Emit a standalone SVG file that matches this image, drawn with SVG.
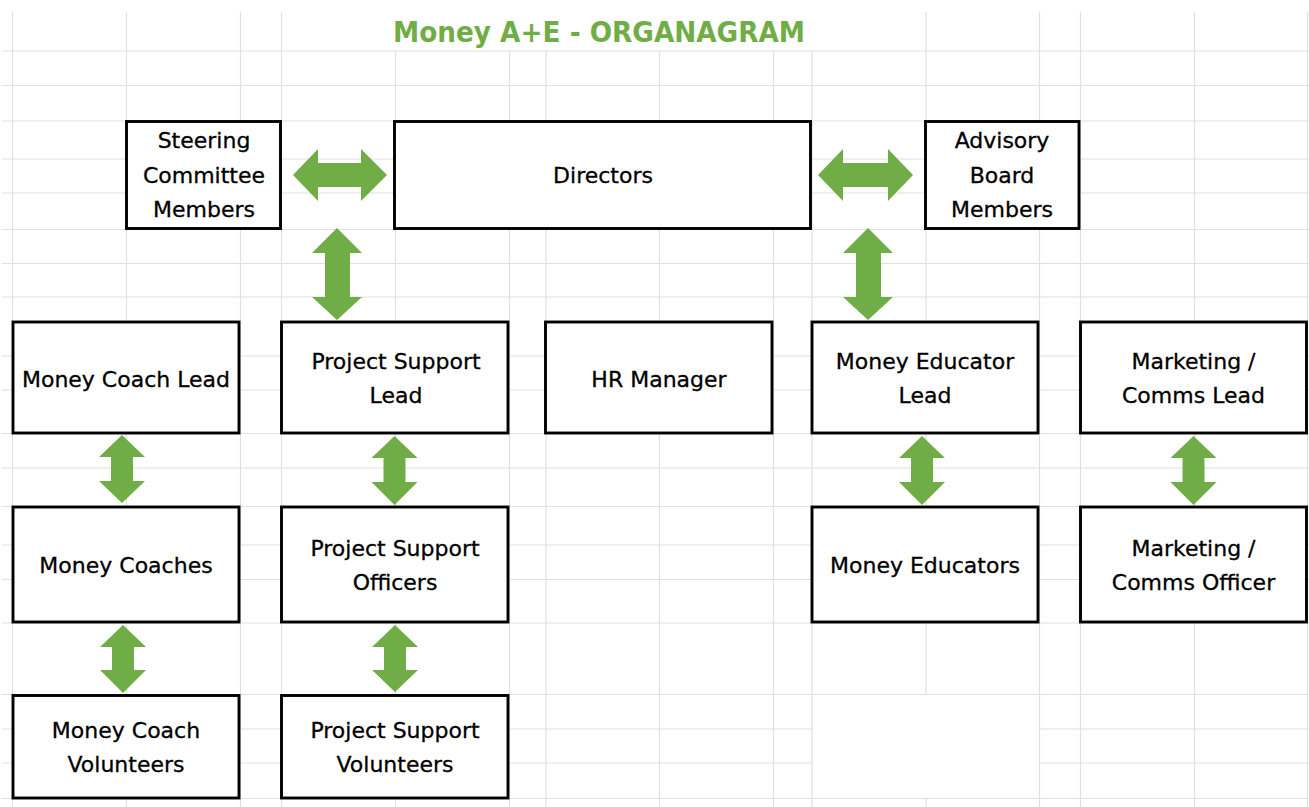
<svg xmlns="http://www.w3.org/2000/svg" width="1309" height="807" viewBox="0 0 1309 807">
<style>
.grid{stroke:#e0e0e0;stroke-width:1.2;fill:none}
.box{fill:#fff;stroke:#000;stroke-width:2.9}
.lbl{font-family:"DejaVu Sans",sans-serif;font-size:22px;fill:#000;stroke:#000;stroke-width:0.3;text-anchor:middle}
.arrow{fill:#70AD47}
.title{font-family:"DejaVu Sans",sans-serif;font-weight:bold;font-size:29px;fill:#70AD47;text-anchor:middle}
</style>
<rect width="1309" height="807" fill="#fff"/>
<g id="grid" class="grid">
<path d="M12.5 12V807M126.5 12V807M240.5 12V807M281.5 12V807M926 12V695M926 799V807M1039.5 12V807M1080.5 12V807M1194.5 12V807M1307.5 12V807"/>
<path d="M395.5 51V807M509.5 51V807M546 51V807M659.5 51V807M773.5 51V807M812 51V807"/>
<path d="M2 51H1309M2 85.5H1309M2 121H1309M2 159H1309M2 193H1309M2 229.5H1309M2 263.5H1309M2 297H1309M2 356H1309M2 390H1309M2 433.5H1309M2 468H1309M2 506.5H1309M2 545H1309M2 579.5H1309M2 623H1309M2 694.5H1309M2 798.5H1309"/>
<path d="M2 729H812M1039 729H1309M2 763H812M1039 763H1309"/>
</g>
<text class="title" x="599" y="42" textLength="412" lengthAdjust="spacingAndGlyphs">Money A+E - ORGANAGRAM</text>
<g id="connectors">
<polygon class="arrow" points="293,175 318,149 318,163 361,163 361,149 387,175 361,201 361,187 318,187 318,201"/>
<polygon class="arrow" points="818,175 843,149 843,163 888,163 888,149 913,175 888,201 888,187 843,187 843,201"/>
<polygon class="arrow" points="337,228 362,253 350,253 350,297 362,297 337,320 312,297 325,297 325,253 312,253"/>
<polygon class="arrow" points="868,228 893,253 881,253 881,297 893,297 868,320 843,297 856,297 856,253 843,253"/>
<polygon class="arrow" points="122,435 145,457 133,457 133,481 145,481 122,503 99,481 111,481 111,457 99,457"/>
<polygon class="arrow" points="123,625 146,647 134,647 134,670 146,670 123,693 100,670 112,670 112,647 100,647"/>
<polygon class="arrow" points="394.5,436 417.5,458 405.5,458 405.5,482 417.5,482 394.5,505 371.5,482 383.5,482 383.5,458 371.5,458"/>
<polygon class="arrow" points="395,625 418,647 406,647 406,670 418,670 395,692 372,670 384,670 384,647 372,647"/>
<polygon class="arrow" points="922,436 945,458 933,458 933,482 945,482 922,505 899,482 911,482 911,458 899,458"/>
<polygon class="arrow" points="1193.5,436 1216.5,458 1204.5,458 1204.5,482 1216.5,482 1193.5,505 1170.5,482 1182.5,482 1182.5,458 1170.5,458"/>
</g>
<g id="steering">
<rect class="box" x="126.5" y="121.5" width="154" height="107"/>
<text class="lbl" x="204" y="148">Steering</text>
<text class="lbl" x="204" y="183">Committee</text>
<text class="lbl" x="204" y="217">Members</text>
</g>
<g id="directors">
<rect class="box" x="394.5" y="121.5" width="416" height="107"/>
<text class="lbl" x="603" y="183">Directors</text>
</g>
<g id="advisory">
<rect class="box" x="925.5" y="121.5" width="153.5" height="107"/>
<text class="lbl" x="1002" y="148">Advisory</text>
<text class="lbl" x="1002" y="183">Board</text>
<text class="lbl" x="1002" y="217">Members</text>
</g>
<g id="money-coach-lead">
<rect class="box" x="13" y="322" width="226" height="111"/>
<text class="lbl" x="126" y="387">Money Coach Lead</text>
</g>
<g id="project-support-lead">
<rect class="box" x="281.5" y="322" width="226.5" height="111"/>
<text class="lbl" x="396" y="369">Project Support</text>
<text class="lbl" x="396" y="403">Lead</text>
</g>
<g id="hr-manager">
<rect class="box" x="545.5" y="322" width="226.5" height="111"/>
<text class="lbl" x="659" y="387">HR Manager</text>
</g>
<g id="money-educator-lead">
<rect class="box" x="812" y="322" width="226" height="111"/>
<text class="lbl" x="925" y="369">Money Educator</text>
<text class="lbl" x="925" y="403">Lead</text>
</g>
<g id="marketing-lead">
<rect class="box" x="1080.5" y="322" width="226" height="111"/>
<text class="lbl" x="1193.5" y="369">Marketing /</text>
<text class="lbl" x="1193.5" y="403">Comms Lead</text>
</g>
<g id="money-coaches">
<rect class="box" x="13" y="507" width="226" height="115"/>
<text class="lbl" x="126" y="573">Money Coaches</text>
</g>
<g id="project-support-officers">
<rect class="box" x="281.5" y="507" width="226.5" height="115"/>
<text class="lbl" x="395" y="556">Project Support</text>
<text class="lbl" x="395" y="590">Officers</text>
</g>
<g id="money-educators">
<rect class="box" x="812" y="507" width="226" height="115"/>
<text class="lbl" x="925" y="573">Money Educators</text>
</g>
<g id="marketing-officer">
<rect class="box" x="1080.5" y="507" width="226" height="115"/>
<text class="lbl" x="1193.5" y="556">Marketing /</text>
<text class="lbl" x="1193.5" y="590">Comms Officer</text>
</g>
<g id="money-coach-volunteers">
<rect class="box" x="13" y="695.5" width="226" height="102.5"/>
<text class="lbl" x="126" y="738">Money Coach</text>
<text class="lbl" x="126" y="772">Volunteers</text>
</g>
<g id="project-support-volunteers">
<rect class="box" x="281.5" y="695.5" width="226.5" height="102.5"/>
<text class="lbl" x="395" y="738">Project Support</text>
<text class="lbl" x="395" y="772">Volunteers</text>
</g>
</svg>
